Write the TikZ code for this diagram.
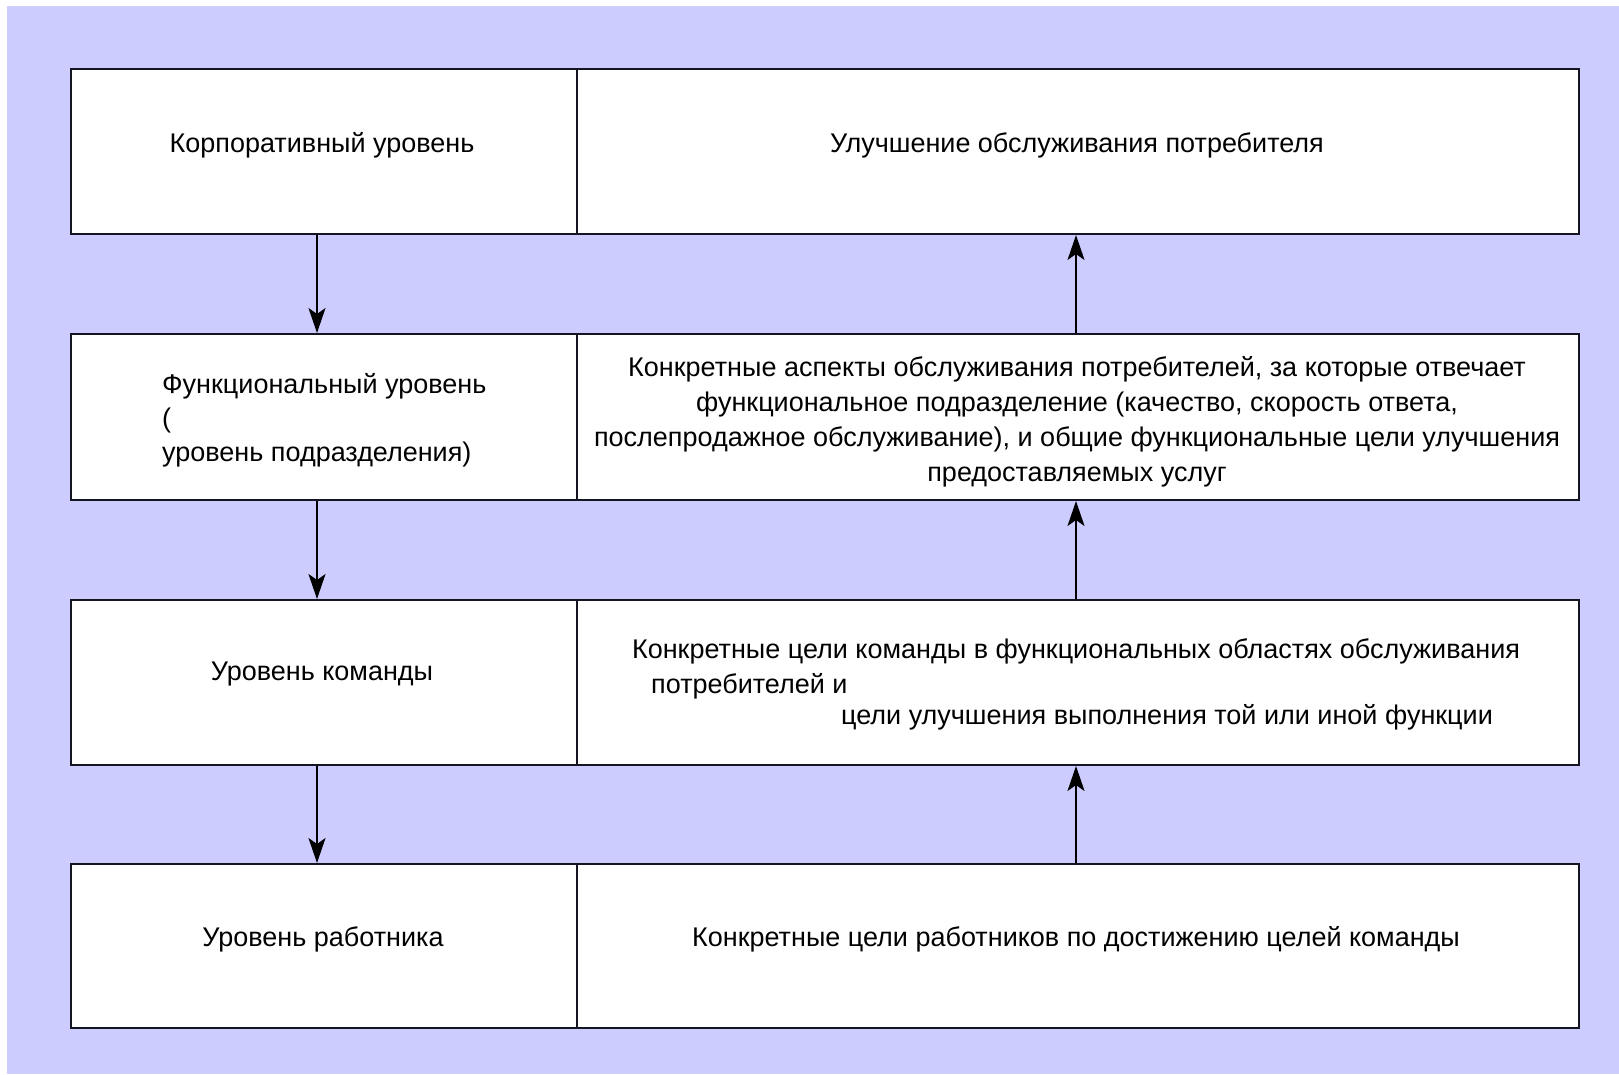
\documentclass[tikz,border=0pt]{standalone}
\usepackage{fontspec}
\setmainfont{Liberation Sans}
\newfontfamily\rightfont{Liberation Sans}
\usetikzlibrary{arrows.meta}
\definecolor{bgblue}{RGB}{204,204,255}
\definecolor{edge}{RGB}{20,20,35}
\begin{document}
\begin{tikzpicture}[x=1pt,y=-1pt,
  cell/.style={draw=edge,line width=2pt,fill=white,inner sep=0pt,anchor=north west},
  lefttext/.style={inner sep=0pt,font=\fontsize{27}{34}\selectfont},
  righttext/.style={inner sep=0pt,font=\rightfont\fontsize{27}{35}\selectfont},
  flow/.style={draw=black,line width=2pt,-{Stealth[length=25pt,width=17pt,inset=6pt]}}]
\useasboundingbox (0,0) rectangle (1619,1074);
\fill[white] (0,0) rectangle (1619,1074);
\fill[bgblue] (7,6) rectangle (1619,1074);
% boxes
\node[cell,minimum width=506pt,minimum height=165pt] (L1) at (70,68) {};
\node[cell,minimum width=1002pt,minimum height=165pt] (R1) at (576,68) {};
\node[cell,minimum width=506pt,minimum height=166pt] (L2) at (70,333) {};
\node[cell,minimum width=1002pt,minimum height=166pt] (R2) at (576,333) {};
\node[cell,minimum width=506pt,minimum height=165pt] (L3) at (70,599) {};
\node[cell,minimum width=1002pt,minimum height=165pt] (R3) at (576,599) {};
\node[cell,minimum width=506pt,minimum height=164pt] (L4) at (70,863) {};
\node[cell,minimum width=1002pt,minimum height=164pt] (R4) at (576,863) {};
% texts
\node[lefttext] (tL1) at (322,145) {Корпоративный уровень};
\node[righttext] (tR1) at (1077,145) {Улучшение обслуживания потребителя};
\node[lefttext,anchor=west,align=left] (tL2) at (162,420) {Функциональный уровень\\(\\уровень подразделения)};
\node[righttext,align=center] (tR2) at (1077,422) {Конкретные аспекты обслуживания потребителей, за которые отвечает\\функциональное подразделение (качество, скорость ответа,\\послепродажное обслуживание), и общие функциональные цели улучшения\\предоставляемых услуг};
\node[lefttext] (tL3) at (322,674) {Уровень команды};
\node[righttext] (tR3a) at (1076,651) {Конкретные цели команды в функциональных областях обслуживания};
\node[righttext,anchor=west] (tR3b) at (651,686) {потребителей и};
\node[righttext,anchor=east] (tR3c) at (1493,717) {цели улучшения выполнения той или иной функции};
\node[lefttext] (tL4) at (323,939.5) {Уровень работника};
\node[righttext] (tR4) at (1076,939.5) {Конкретные цели работников по достижению целей команды};
% arrows
\draw[flow] (L1.south -| 317,0) -- (L2.north -| 317,0);
\draw[flow] (L2.south -| 317,0) -- (L3.north -| 317,0);
\draw[flow] (L3.south -| 317,0) -- (L4.north -| 317,0);
\draw[flow] (R2.north -| 1076,0) -- (R1.south -| 1076,0);
\draw[flow] (R3.north -| 1076,0) -- (R2.south -| 1076,0);
\draw[flow] (R4.north -| 1076,0) -- (R3.south -| 1076,0);
\end{tikzpicture}
\end{document}
